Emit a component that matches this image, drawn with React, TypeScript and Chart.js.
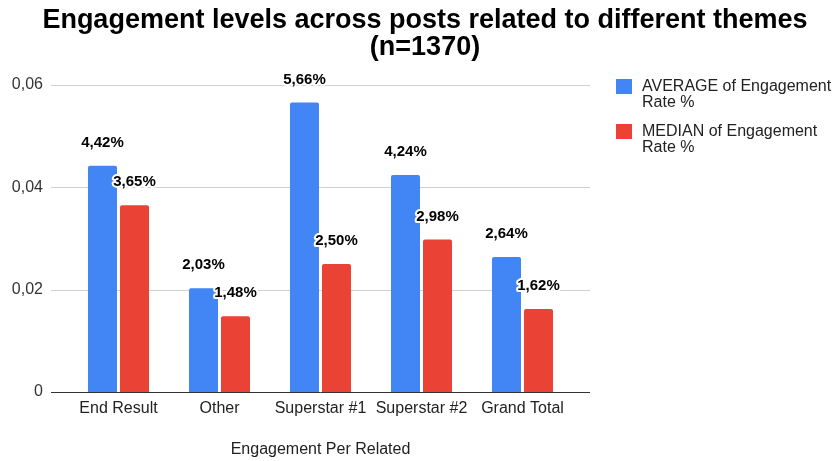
import { useEffect, useRef } from 'react';
import { Chart, registerables } from 'chart.js';

Chart.register(...registerables);

// Chart data
const categories = ['End Result', 'Other', 'Superstar #1', 'Superstar #2', 'Grand Total'];
const averageRate = [0.0442, 0.0203, 0.0566, 0.0424, 0.0264];
const medianRate = [0.0365, 0.0148, 0.025, 0.0298, 0.0162];
const seriesNames = ['AVERAGE of Engagement Rate %', 'MEDIAN of Engagement Rate %'];
const seriesColors = ['#4285F4', '#EA4335'];
const titleLines = ['Engagement levels across posts related to different themes', '(n=1370)'];
const xAxisTitle = 'Engagement Per Related';
const yMin = 0;
const yMax = 0.06;
const yStep = 0.02;

const FONT = '"Liberation Sans", Arial, sans-serif';
const W = 837;
const H = 461;

const withComma = (v: number, digits: number) => v.toFixed(digits).replace('.', ',');

// Horizontal grid lines that run a little past both sides of the plot
const gridPlugin = {
  id: 'sheetGrid',
  beforeDatasetsDraw(chart: any) {
    const { ctx, chartArea } = chart;
    const y = chart.scales.y;
    ctx.save();
    ctx.lineWidth = 1;
    ctx.strokeStyle = '#d0d0d0';
    y.ticks.forEach((t: any) => {
      if (t.value === 0) return;
      const py = Math.round(y.getPixelForValue(t.value)) + 0.5;
      ctx.beginPath();
      ctx.moveTo(chartArea.left - 17, py);
      ctx.lineTo(chartArea.right + 17, py);
      ctx.stroke();
    });
    ctx.restore();
  },
  afterDatasetsDraw(chart: any) {
    const { ctx, chartArea } = chart;
    const y = chart.scales.y;
    const py = Math.round(y.getPixelForValue(0)) + 0.5;
    ctx.save();
    ctx.lineWidth = 1;
    ctx.strokeStyle = '#333333';
    ctx.beginPath();
    ctx.moveTo(chartArea.left - 17, py);
    ctx.lineTo(chartArea.right + 17, py);
    ctx.stroke();
    ctx.restore();
  },
};

// Percentage labels above every bar, with a white halo
const valueLabelPlugin = {
  id: 'valueLabels',
  afterDatasetsDraw(chart: any) {
    const { ctx } = chart;
    ctx.save();
    ctx.font = `bold 15px ${FONT}`;
    ctx.textAlign = 'center';
    ctx.textBaseline = 'middle';
    ctx.lineJoin = 'round';
    chart.data.datasets.forEach((ds: any, di: number) => {
      const meta = chart.getDatasetMeta(di);
      meta.data.forEach((el: any, i: number) => {
        const text = withComma(ds.data[i] * 100, 2) + '%';
        const x = el.x;
        const y = el.y - 23;
        ctx.strokeStyle = '#ffffff';
        ctx.lineWidth = 4;
        ctx.strokeText(text, x, y);
        ctx.fillStyle = '#000000';
        ctx.fillText(text, x, y);
      });
    });
    ctx.restore();
  },
};

// Two-line bold title centred at the top
const titlePlugin = {
  id: 'sheetTitle',
  afterDraw(chart: any) {
    const { ctx } = chart;
    ctx.save();
    ctx.font = `bold 27px ${FONT}`;
    ctx.fillStyle = '#000000';
    ctx.textAlign = 'center';
    ctx.textBaseline = 'alphabetic';
    ctx.fillText(titleLines[0], 425, 28);
    ctx.fillText(titleLines[1], 425, 55);
    ctx.restore();
  },
};

// Legend on the right with wrapped series names
const legendPlugin = {
  id: 'sideLegend',
  afterDraw(chart: any) {
    const { ctx } = chart;
    const boxX = 616;
    const textX = 642;
    const maxWidth = W - textX - 2;
    ctx.save();
    ctx.font = `16px ${FONT}`;
    ctx.textAlign = 'left';
    ctx.textBaseline = 'alphabetic';
    let top = 79;
    seriesNames.forEach((name, i) => {
      ctx.fillStyle = seriesColors[i];
      ctx.fillRect(boxX, top, 16, 15);
      const words = name.split(' ');
      const lines: string[] = [];
      let cur = '';
      words.forEach((w) => {
        const test = cur ? cur + ' ' + w : w;
        if (ctx.measureText(test).width > maxWidth && cur) {
          lines.push(cur);
          cur = w;
        } else {
          cur = test;
        }
      });
      if (cur) lines.push(cur);
      ctx.fillStyle = '#222222';
      lines.forEach((ln, li) => {
        ctx.fillText(ln, textX, top + 12 + li * 16);
      });
      top += 45;
    });
    ctx.restore();
  },
};

export default function App() {
  const canvasRef = useRef<HTMLCanvasElement | null>(null);

  useEffect(() => {
    if (!canvasRef.current) return;
    const chart = new Chart(canvasRef.current, {
      type: 'bar',
      data: {
        labels: categories,
        datasets: [
          {
            label: seriesNames[0],
            data: averageRate,
            backgroundColor: seriesColors[0],
            borderRadius: { topLeft: 2, topRight: 2, bottomLeft: 0, bottomRight: 0 },
            borderSkipped: false,
            categoryPercentage: 0.634,
            barPercentage: 0.906,
          },
          {
            label: seriesNames[1],
            data: medianRate,
            backgroundColor: seriesColors[1],
            borderRadius: { topLeft: 2, topRight: 2, bottomLeft: 0, bottomRight: 0 },
            borderSkipped: false,
            categoryPercentage: 0.634,
            barPercentage: 0.906,
          },
        ],
      },
      options: {
        responsive: false,
        animation: false,
        layout: { padding: { top: 85, left: 0, right: 264, bottom: 0 } },
        plugins: {
          legend: { display: false },
          title: { display: false },
          tooltip: { enabled: false },
        },
        scales: {
          x: {
            grid: { display: false, drawTicks: false },
            border: { display: false },
            ticks: {
              font: { family: FONT, size: 16 },
              color: '#222222',
              padding: 7,
              maxRotation: 0,
              autoSkip: false,
            },
            title: {
              display: true,
              text: xAxisTitle,
              font: { family: FONT, size: 16 },
              color: '#222222',
              padding: { top: 0, bottom: 2 },
            },
            afterFit(scale: any) {
              scale.height = 69;
            },
          },
          y: {
            min: yMin,
            max: yMax,
            grid: { display: false, drawTicks: false },
            border: { display: false },
            ticks: {
              stepSize: yStep,
              font: { family: FONT, size: 16 },
              color: '#333333',
              padding: 25,
              callback: (v: any) => (Number(v) === 0 ? '0' : withComma(Number(v), 2)),
            },
            afterFit(scale: any) {
              scale.width = 68;
            },
          },
        },
      },
      plugins: [gridPlugin, valueLabelPlugin, titlePlugin, legendPlugin],
    });
    return () => chart.destroy();
  }, []);

  return (
    <div style={{ position: 'fixed', left: 0, top: 0, width: W, height: H, background: '#ffffff' }}>
      <canvas ref={canvasRef} width={W} height={H} style={{ display: 'block' }} />
    </div>
  );
}
